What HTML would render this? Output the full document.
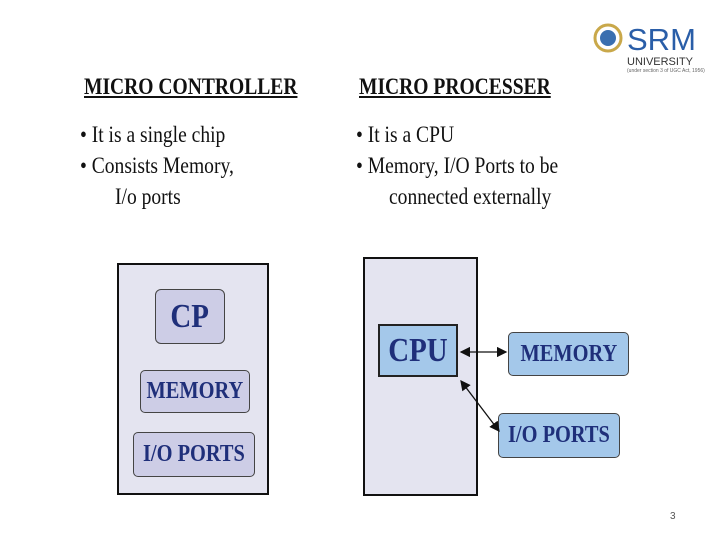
<!DOCTYPE html><html><head><style>
body{margin:0;width:720px;height:540px;background:#fff;position:relative;overflow:hidden;font-family:"Liberation Serif",serif}
.a{position:absolute;white-space:nowrap}
.h{font-weight:bold;font-size:23px;text-decoration:underline;transform:scaleX(.85);transform-origin:0 0;color:#111}
.t{font-size:23px;transform:scaleX(.85);transform-origin:0 0;color:#111}
.b{position:absolute;box-sizing:border-box;border:1.5px solid #444;display:flex;align-items:center;justify-content:center;font-weight:bold;color:#1f2f7a}
.b span{display:inline-block;transform:scaleX(.85)}
</style></head><body>
<div class="a h" style="left:84px;top:74px">MICRO CONTROLLER</div>
<div class="a h" style="left:359px;top:74px">MICRO PROCESSER</div>
<div class="a t" style="left:80px;top:122px">• It is a single chip</div>
<div class="a t" style="left:80px;top:153px">• Consists Memory,</div>
<div class="a t" style="left:115px;top:184px">I/o ports</div>
<div class="a t" style="left:356px;top:122px">• It is a CPU</div>
<div class="a t" style="left:356px;top:153px">• Memory, I/O Ports to be</div>
<div class="a t" style="left:389px;top:184px">connected externally</div>
<div class="b" style="left:117px;top:263px;width:152px;height:232px;background:#e4e4f0;border:2px solid #111"></div>
<div class="b" style="left:155px;top:289px;width:70px;height:55px;background:#cdcde6;border-radius:6px;font-size:34px"><span>CP</span></div>
<div class="b" style="left:140px;top:370px;width:110px;height:43px;background:#cdcde6;border-radius:5px;font-size:24px"><span>MEMORY</span></div>
<div class="b" style="left:133px;top:432px;width:122px;height:45px;background:#cdcde6;border-radius:5px;font-size:24px"><span>I/O PORTS</span></div>
<div class="b" style="left:363px;top:257px;width:115px;height:239px;background:#e4e4f0;border:2px solid #111"></div>
<div class="b" style="left:378px;top:324px;width:80px;height:53px;background:#a4c8ea;border:2px solid #222;font-size:34px"><span>CPU</span></div>
<div class="b" style="left:508px;top:332px;width:121px;height:44px;background:#a4c8ea;border-radius:5px;font-size:24px"><span>MEMORY</span></div>
<div class="b" style="left:498px;top:413px;width:122px;height:45px;background:#a4c8ea;border-radius:5px;font-size:24px"><span>I/O PORTS</span></div>
<svg class="a" style="left:0;top:0" width="720" height="540">
<defs><marker id="m" markerWidth="8" markerHeight="8" refX="7" refY="4" orient="auto-start-reverse"><path d="M0,0L8,4L0,8z" fill="#111"/></marker></defs>
<line x1="461" y1="352" x2="506" y2="352" stroke="#111" stroke-width="1.3" marker-start="url(#m)" marker-end="url(#m)"/>
<line x1="461" y1="381" x2="499" y2="431" stroke="#111" stroke-width="1.3" marker-start="url(#m)" marker-end="url(#m)"/>
<circle cx="608" cy="38" r="13" fill="#fff" stroke="#c9a84a" stroke-width="3"/>
<circle cx="608" cy="38" r="8" fill="#3a6fb0"/>
<text x="627" y="50" font-family="Liberation Sans" font-size="31" fill="#2a5ea8">SRM</text>
<text x="627" y="65" font-family="Liberation Sans" font-size="11" fill="#333">UNIVERSITY</text>
<text x="627" y="72" font-family="Liberation Sans" font-size="5" fill="#666">(under section 3 of UGC Act, 1956)</text>
<text x="670" y="519" font-family="Liberation Sans" font-size="10" fill="#555">3</text>
</svg>
</body></html>
